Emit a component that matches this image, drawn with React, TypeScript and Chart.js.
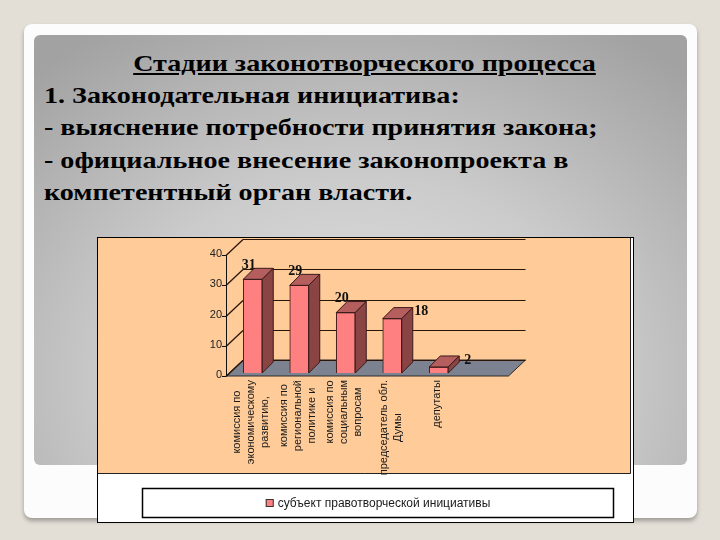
import React, { useEffect, useRef } from "react";
import { Chart, registerables } from "chart.js";

Chart.register(...registerables);

// ---- data ----
const categories: string[][] = [
  ["комиссия по", "экономическому", "развитию,"],
  ["комиссия по", "региональной", "политике и"],
  ["комиссия по", "социальным", "вопросам"],
  ["председатель обл.", "Думы"],
  ["депутаты"],
];
const values: number[] = [31, 29, 20, 18, 2];
const seriesLabel = "субъект правотворческой инициативы";
const yTicks: number[] = [0, 10, 20, 30, 40];
const titleText = "Стадии законотворческого процесса";
const bodyLines: string[] = [
  "1. Законодательная инициатива:",
  "- выяснение потребности принятия закона;",
  "- официальное внесение законопроекта в",
  "компетентный орган власти.",
];
const valueLabelSide: string[] = ["top", "top", "top", "right", "right"];

// ---- style ----
const PEACH = "#FFCC99";
const BAR_FRONT = "#FF8080";
const BAR_TOP = "#B45E5E";
const BAR_SIDE = "#8A4444";
const BAR_EDGE = "#3A1A1A";
const FLOOR = "#7C8290";
const SANS = '"Liberation Sans", Arial, sans-serif';
const SERIF = '"Liberation Serif", "Times New Roman", serif';

const threeDPlugin = {
  id: "threeD",
  beforeDraw(chart: any) {
    const { ctx, chartArea: ca, scales } = chart;
    const ys = scales.y;
    const W = chart.width;
    const H = chart.height;
    ctx.save();
    ctx.fillStyle = "#ffffff";
    ctx.fillRect(0, 0, W, H);
    // plot area
    const pr = W - 2;
    const pb = H - 48;
    ctx.fillStyle = PEACH;
    ctx.fillRect(0, 0, pr, pb);
    ctx.strokeStyle = "#222";
    ctx.lineWidth = 1;
    ctx.beginPath();
    ctx.moveTo(pr - 0.5, 0);
    ctx.lineTo(pr - 0.5, pb - 0.5);
    ctx.lineTo(0, pb - 0.5);
    ctx.stroke();

    // legend box
    const lx0 = 44, lx1 = W - 19, ly0 = H - 34, ly1 = H - 4;
    ctx.fillStyle = "#fff";
    ctx.fillRect(lx0, ly0, lx1 - lx0, ly1 - ly0);
    ctx.strokeStyle = "#000";
    ctx.lineWidth = 1.5;
    ctx.strokeRect(lx0 + 0.5, ly0 + 0.5, lx1 - lx0 - 1, ly1 - ly0 - 1);
    // legend content
    ctx.font = `12px ${SANS}`;
    const tw = ctx.measureText(chart.data.datasets[0].label).width;
    const mk = 8;
    const total = mk + 4 + tw;
    const cx = (lx0 + lx1) / 2;
    const cy = (ly0 + ly1) / 2;
    const sx = cx - total / 2;
    ctx.fillStyle = BAR_FRONT;
    ctx.fillRect(sx, cy - mk / 2, mk, mk);
    ctx.strokeStyle = "#333";
    ctx.lineWidth = 1;
    ctx.strokeRect(sx + 0.5, cy - mk / 2 + 0.5, mk - 1, mk - 1);
    ctx.fillStyle = "#1a1a1a";
    ctx.textBaseline = "middle";
    ctx.textAlign = "left";
    ctx.fillText(chart.data.datasets[0].label, sx + mk + 4, cy + 0.5);

    // 3D walls/floor
    ctx.beginPath();
    ctx.rect(0, 0, pr - 1, pb - 1);
    ctx.clip();
    const n = chart.data.labels.length;
    const catW = (ca.right - ca.left) / n;
    const fx = ca.left - 3.5;
    const fy = (v: number) => ys.getPixelForValue(v) + 3;
    const wdx = 17, wdy = -16;
    const fr = ca.right + catW;
    const y0 = fy(yTicks[0]);
    // floor
    ctx.fillStyle = FLOOR;
    ctx.beginPath();
    ctx.moveTo(fx, y0);
    ctx.lineTo(fr, y0);
    ctx.lineTo(fr + wdx, y0 + wdy);
    ctx.lineTo(fx + wdx, y0 + wdy);
    ctx.closePath();
    ctx.fill();
    ctx.strokeStyle = "#2a2a2a";
    ctx.lineWidth = 1;
    ctx.stroke();
    // gridlines on back wall + diagonals
    ctx.strokeStyle = "#2a1508";
    ctx.lineWidth = 1.2;
    yTicks.forEach((v) => {
      const yy = Math.round(fy(v)) + 0.5;
      ctx.beginPath();
      ctx.moveTo(fx + wdx, yy + wdy);
      ctx.lineTo(fr + wdx, yy + wdy);
      ctx.stroke();
      ctx.beginPath();
      ctx.moveTo(fx, yy);
      ctx.lineTo(fx + wdx, yy + wdy);
      ctx.stroke();
    });
    // axis line + ticks
    ctx.strokeStyle = "#111";
    ctx.lineWidth = 1;
    ctx.beginPath();
    ctx.moveTo(Math.round(fx) + 0.5, fy(yTicks[0]));
    ctx.lineTo(Math.round(fx) + 0.5, fy(yTicks[yTicks.length - 1]));
    ctx.stroke();
    yTicks.forEach((v) => {
      const yy = Math.round(fy(v)) + 0.5;
      ctx.beginPath();
      ctx.moveTo(fx - 4, yy);
      ctx.lineTo(fx, yy);
      ctx.stroke();
    });
    ctx.restore();
  },
  afterDatasetsDraw(chart: any) {
    const { ctx, scales } = chart;
    const ys = scales.y;
    const meta = chart.getDatasetMeta(0);
    const dx = 11, dy = -11;
    ctx.save();
    ctx.lineWidth = 1;
    ctx.strokeStyle = BAR_EDGE;
    meta.data.forEach((bar: any, i: number) => {
      const p = bar.getProps(["x", "y", "base", "width"], true);
      const x0 = p.x - p.width / 2;
      const x1 = p.x + p.width / 2;
      const t = p.y;
      const b = p.base;
      // top face
      ctx.fillStyle = BAR_TOP;
      ctx.beginPath();
      ctx.moveTo(x0, t);
      ctx.lineTo(x1, t);
      ctx.lineTo(x1 + dx, t + dy);
      ctx.lineTo(x0 + dx, t + dy);
      ctx.closePath();
      ctx.fill();
      ctx.stroke();
      // side face
      ctx.fillStyle = BAR_SIDE;
      ctx.beginPath();
      ctx.moveTo(x1, t);
      ctx.lineTo(x1 + dx, t + dy);
      ctx.lineTo(x1 + dx, b + dy);
      ctx.lineTo(x1, b);
      ctx.closePath();
      ctx.fill();
      ctx.stroke();
      // value label
      ctx.fillStyle = "#111";
      ctx.font = `bold 14px ${SERIF}`;
      ctx.textBaseline = "middle";
      ctx.textAlign = "center";
      const txt = String(chart.data.datasets[0].data[i]);
      if (valueLabelSide[i] === "right") {
        ctx.fillText(txt, p.x + 29, t - 7);
      } else {
        ctx.fillText(txt, p.x - 4, t - 14);
      }
    });
    // category labels (rotated, centred lines)
    const lh = 14;
    const topY = ys.getPixelForValue(yTicks[0]) + 3 + 4;
    ctx.font = `11px ${SANS}`;
    ctx.fillStyle = "#1a1a1a";
    ctx.textAlign = "center";
    ctx.textBaseline = "middle";
    meta.data.forEach((bar: any, i: number) => {
      const lines: string[] = chart.data.labels[i];
      const maxW = Math.max(...lines.map((s) => ctx.measureText(s).width));
      const cy = topY + maxW / 2;
      lines.forEach((s, j) => {
        const cx = bar.x - 1.5 + (j - (lines.length - 1) / 2) * lh;
        ctx.save();
        ctx.translate(cx, cy);
        ctx.rotate(-Math.PI / 2);
        ctx.fillText(s, 0, 0);
        ctx.restore();
      });
    });
    ctx.restore();
  },
};

function BarChart() {
  const ref = useRef<HTMLCanvasElement | null>(null);
  useEffect(() => {
    if (!ref.current) return;
    const chart = new Chart(ref.current, {
      type: "bar",
      data: {
        labels: categories,
        datasets: [
          {
            label: seriesLabel,
            data: values,
            backgroundColor: BAR_FRONT,
            borderColor: BAR_EDGE,
            borderWidth: 1,
            barThickness: 19,
          },
        ],
      },
      options: {
        responsive: false,
        animation: false,
        events: [],
        layout: { padding: { top: 10, right: 171, bottom: 0, left: 0 } },
        plugins: {
          legend: { display: false },
          tooltip: { enabled: false },
        },
        scales: {
          x: {
            grid: { display: false, drawTicks: false },
            border: { display: false },
            ticks: { display: false },
            afterFit: (s: any) => {
              s.height = 149;
            },
          },
          y: {
            min: yTicks[0],
            max: yTicks[yTicks.length - 1],
            afterBuildTicks: (s: any) => {
              s.ticks = yTicks.map((v) => ({ value: v }));
            },
            ticks: {
              padding: 7.5,
              labelOffset: 2,
              color: "#222",
              font: { family: SANS, size: 11 },
            },
            grid: { display: false, drawTicks: false },
            border: { display: false },
            afterFit: (s: any) => {
              s.width = 131.5;
            },
          },
        },
      },
      plugins: [threeDPlugin],
    } as any);
    return () => chart.destroy();
  }, []);
  return <canvas ref={ref} width={535} height={284} style={{ display: "block" }} />;
}

const textStyle: React.CSSProperties = {
  font: `bold 24px ${SERIF}`,
  color: "#000",
  whiteSpace: "nowrap",
};

export default function App() {
  return (
    <div
      style={{
        position: "absolute",
        left: 0,
        top: 0,
        width: 720,
        height: 540,
        background: "#E3DFD7",
        overflow: "hidden",
      }}
    >
      <div
        style={{
          position: "absolute",
          left: 24,
          top: 24,
          width: 673,
          height: 494,
          background: "#FCFCFC",
          borderRadius: 8,
          boxShadow: "0 3px 4px rgba(0,0,0,0.3)",
        }}
      />
      <div
        style={{
          position: "absolute",
          left: 34,
          top: 35,
          width: 653,
          height: 430,
          borderRadius: 6,
          background:
            "radial-gradient(ellipse 75% 95% at 50% 80%, #e4e4e4 0%, #cbcbcb 50%, #a2a2a2 100%)",
        }}
      />
      <div
        style={{
          ...textStyle,
          position: "absolute",
          left: 44,
          top: 47,
          width: 641,
          textAlign: "center",
          lineHeight: "32px",
          textDecoration: "underline",
          transform: "scaleX(1.17)",
          transformOrigin: "50% 50%",
        }}
      >
        {titleText}
      </div>
      <div
        style={{
          ...textStyle,
          position: "absolute",
          left: 44,
          top: 79,
          width: 560,
          lineHeight: "32.3px",
          transform: "scaleX(1.17)",
          transformOrigin: "0 0",
        }}
      >
        {bodyLines.map((l, i) => (
          <div key={i}>{l}</div>
        ))}
      </div>
      <div
        style={{
          position: "absolute",
          left: 97,
          top: 237,
          width: 537,
          height: 286,
          border: "1px solid #000",
          background: "#fff",
          boxSizing: "border-box",
        }}
      >
        <BarChart />
      </div>
    </div>
  );
}
